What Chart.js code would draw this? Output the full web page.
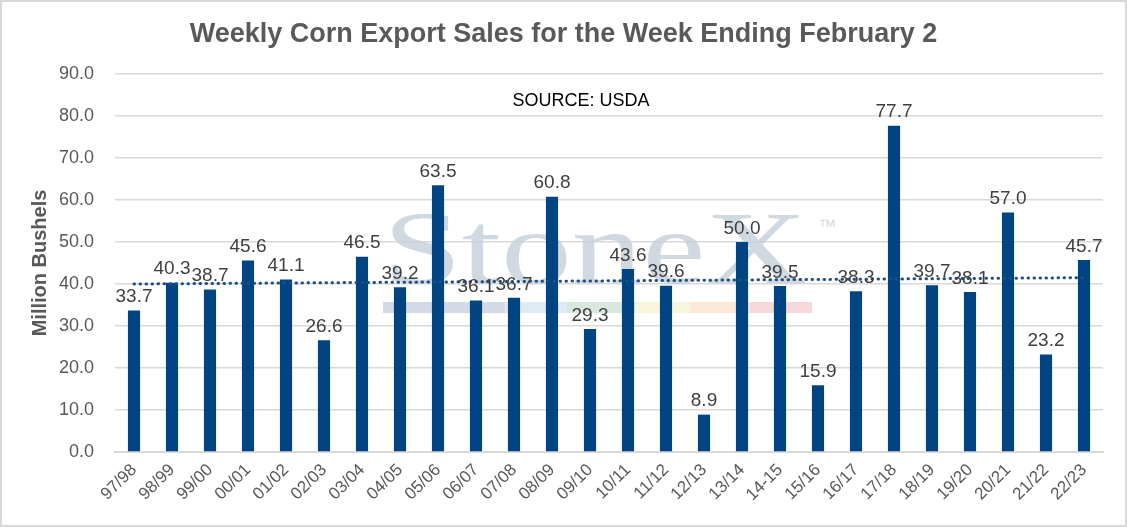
<!DOCTYPE html>
<html>
<head>
<meta charset="utf-8">
<script src="https://cdn.jsdelivr.net/npm/chart.js@4"></script>
<style>
  html, body { margin: 0; padding: 0; background: #fff; }
  #wrap { width: 1127px; height: 527px; position: relative; }
</style>
</head>
<body>
<div id="wrap"><canvas id="chart"></canvas></div>
<script>
// ---- Data ----
const seasons = ["97/98","98/99","99/00","00/01","01/02","02/03","03/04","04/05","05/06","06/07","07/08","08/09","09/10",
                 "10/11","11/12","12/13","13/14","14-15","15/16","16/17","17/18","18/19","19/20","20/21","21/22","22/23"];
const sales   = [33.7, 40.3, 38.7, 45.6, 41.1, 26.6, 46.5, 39.2, 63.5, 36.1, 36.7, 60.8, 29.3,
                 43.6, 39.6, 8.9, 50.0, 39.5, 15.9, 38.3, 77.7, 39.7, 38.1, 57.0, 23.2, 45.7];
// trendline ends
const trendStart = 40.0;
const trendEnd   = 41.5;
const yTicks = { min: 0, max: 90, step: 10 };

const trend = seasons.map((_, i) => i === 0 ? trendStart : (i === seasons.length - 1 ? trendEnd : null));

const FONT = "'Liberation Sans', Arial, sans-serif";

// ---- Plugins ----
const frame = {
  id: "frame",
  beforeDraw(chart) {
    const c = chart.ctx;
    c.save();
    c.fillStyle = "#fff";
    c.fillRect(0, 0, chart.width, chart.height);
    c.restore();
  },
  afterDraw(chart) {
    const c = chart.ctx;
    c.save();
    c.strokeStyle = "#d9d9d9";
    c.lineWidth = 2;
    c.strokeRect(1, 1, chart.width - 2, chart.height - 2);
    c.restore();
  }
};

// faint StoneX watermark + source note
const watermark = {
  id: "watermark",
  beforeDatasetsDraw(chart) {
    const c = chart.ctx;
    c.save();
    c.fillStyle = "rgba(196,206,218,0.8)";
    c.save();
    c.translate(383, 283);
    c.scale(1.36, 1);
    c.font = "104px 'Liberation Serif', 'DejaVu Serif', serif";
    c.textBaseline = "alphabetic";
    c.fillText("StoneX", 0, 0);
    c.restore();
    c.font = "18px " + FONT;
    c.fillText("™", 818, 232);
    const segs = [[383, 505, "rgba(204,212,224,0.85)"], [505, 567, "rgba(216,230,242,0.85)"],
                  [567, 635, "rgba(210,228,216,0.85)"], [635, 690, "rgba(246,244,214,0.85)"],
                  [690, 750, "rgba(250,228,208,0.85)"], [750, 812, "rgba(244,208,212,0.85)"]];
    segs.forEach(([a, b, col]) => { c.fillStyle = col; c.fillRect(a, 302, b - a, 11); });
    c.fillStyle = "#000";
    c.font = "18px " + FONT;
    c.textAlign = "center";
    c.fillText("SOURCE: USDA", 581, 106);
    c.restore();
  }
};

const barLabels = {
  id: "barLabels",
  afterDatasetsDraw(chart) {
    const c = chart.ctx;
    const meta = chart.getDatasetMeta(0);
    c.save();
    c.fillStyle = "#404040";
    c.font = "19px " + FONT;
    c.textAlign = "center";
    c.textBaseline = "bottom";
    meta.data.forEach((bar, i) => {
      c.fillText(sales[i].toFixed(1), bar.x, bar.y - 4);
    });
    c.restore();
  }
};

// ---- Chart ----
new Chart(document.getElementById("chart"), {
  data: {
    labels: seasons,
    datasets: [
      {
        type: "bar",
        label: "Sales",
        data: sales,
        backgroundColor: "#004481",
        categoryPercentage: 1,
        barPercentage: 0.32,
        order: 2
      },
      {
        type: "line",
        label: "Trend",
        data: trend,
        spanGaps: true,
        borderColor: "#1c4f86",
        borderWidth: 3,
        borderDash: [0.5, 5.5],
        borderCapStyle: "round",
        pointRadius: 0,
        fill: false,
        order: 1
      }
    ]
  },
  options: {
    responsive: true,
    maintainAspectRatio: false,
    animation: false,
    devicePixelRatio: 1,
    layout: { padding: { left: 24, right: 24, top: 0, bottom: 10 } },
    plugins: {
      legend: { display: false },
      tooltip: { enabled: false },
      title: {
        display: true,
        text: "Weekly Corn Export Sales for the Week Ending February 2",
        color: "#595959",
        font: { family: FONT, size: 27, weight: "bold" },
        padding: { top: 18, bottom: 23.6 }
      }
    },
    scales: {
      x: {
        grid: { display: false, drawTicks: false },
        border: { display: true, color: "#d9d9d9", width: 2 },
        ticks: {
          color: "#595959",
          font: { family: FONT, size: 17 },
          maxRotation: 45,
          minRotation: 45,
          autoSkip: false,
          padding: 8
        },
        afterFit(s) { s.height = 65; }
      },
      y: {
        min: yTicks.min,
        max: yTicks.max,
        grid: { color: "#d9d9d9", lineWidth: 1.5, drawTicks: false },
        border: { display: false },
        ticks: {
          stepSize: yTicks.step,
          color: "#595959",
          font: { family: FONT, size: 18 },
          padding: 21,
          callback: v => v.toFixed(1)
        },
        title: {
          display: true,
          text: "Million Bushels",
          color: "#595959",
          font: { family: FONT, size: 20, weight: "bold" },
          padding: { top: 4, bottom: 0 }
        },
        afterFit(s) { s.width = 91; }
      }
    }
  },
  plugins: [frame, watermark, barLabels]
});
</script>
</body>
</html>
